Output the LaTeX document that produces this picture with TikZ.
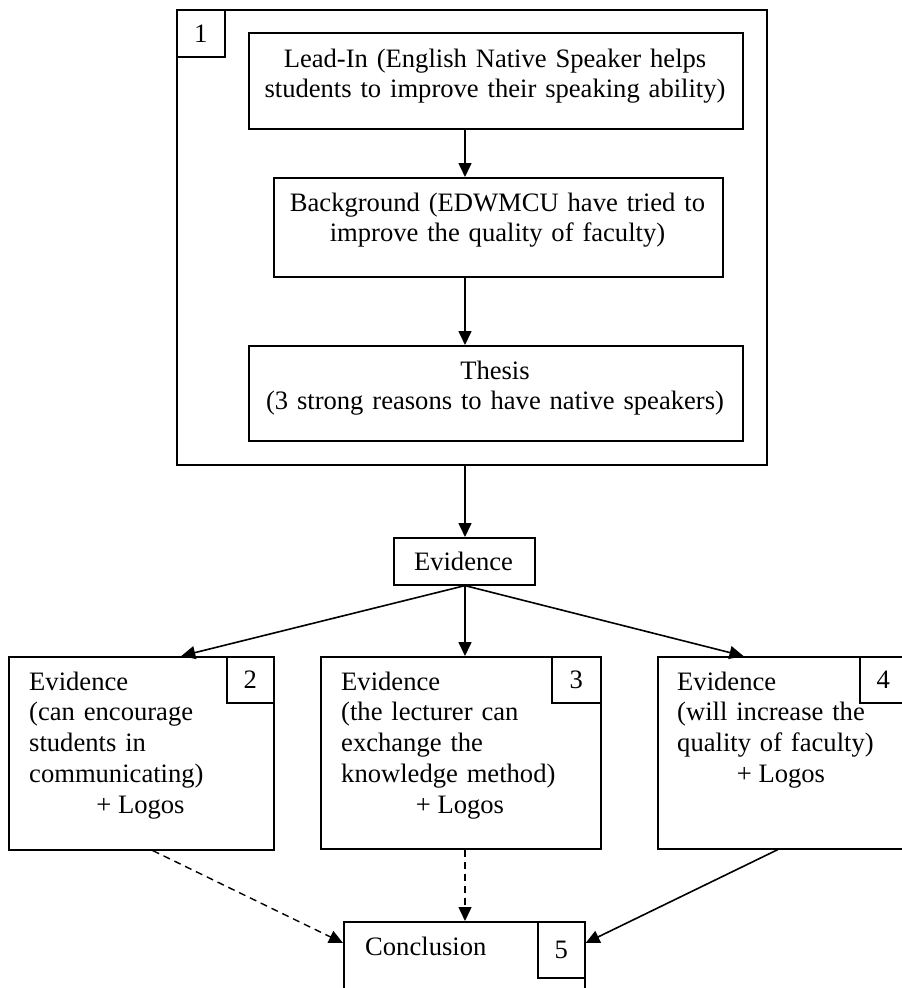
\documentclass[tikz,border=0pt]{standalone}
\usepackage{fontspec}
\setmainfont{Liberation Serif}
\usetikzlibrary{arrows.meta,calc}
\begin{document}
\begin{tikzpicture}[x=1pt,y=-1pt,
  every node/.style={font=\fontsize{26.6}{30.8}\selectfont},
  frame/.style={draw, line width=1.6pt, rectangle, inner sep=0pt, anchor=north west},
  txt/.style={inner sep=0pt},
  ltxt/.style={txt, align=left, anchor=base west},
  ctxt/.style={txt, align=center, anchor=base},
  arr/.style={line width=1.6pt, -{Triangle[length=14pt,width=13pt]}},
  dasharr/.style={arr, line width=1.4pt, dash pattern=on 7pt off 5pt}]
\useasboundingbox (0,0) rectangle (902,988);

% vertical line on which the main arrows run
\coordinate (ax) at (465,0);

% introduction block
\node[frame, minimum width=590, minimum height=455] (outer) at (176,9) {};
\node[frame, minimum width=48, minimum height=47] (n1) at (176,9) {1};

\node[frame, minimum width=494, minimum height=96] (lead) at (248,32) {};
\node[ctxt, text width=490] at (495,67)
  {Lead-In (English Native Speaker helps\\students to improve their speaking ability)};

\node[frame, minimum width=449, minimum height=99] (bg) at (273,177) {};
\node[ctxt, text width=445] at (497.5,211)
  {Background (EDWMCU have tried to\\improve the quality of faculty)};

\node[frame, minimum width=494, minimum height=95] (thesis) at (248,345) {};
\node[ctxt, text width=490] at (495,379)
  {Thesis\\(3 strong reasons to have native speakers)};

% evidence hub
\node[frame, minimum width=141, minimum height=47] (ev) at (393,537) {};
\node[ctxt] at (463.5,570) {Evidence};

% three evidence boxes
\node[frame, minimum width=265, minimum height=193] (ev2) at (8,656) {};
\node[frame, minimum width=47, minimum height=46] (n2) at (226,656) {2};
\node[ltxt, text width=240] at (29,690)
  {Evidence\\(can encourage\\students in\\communicating)};
\node[ctxt] at (140.5,813) {+ Logos};

\node[frame, minimum width=280, minimum height=192] (ev3) at (320,656) {};
\node[frame, minimum width=49, minimum height=46] (n3) at (551,656) {3};
\node[ltxt, text width=255] at (341,690)
  {Evidence\\(the lecturer can\\exchange the\\knowledge method)};
\node[ctxt] at (460,813) {+ Logos};

\node[frame, minimum width=249, minimum height=192] (ev4) at (657,656) {};
\node[frame, minimum width=47, minimum height=46] (n4) at (859,656) {4};
\node[ltxt, text width=225] at (677,690)
  {Evidence\\(will increase the\\quality of faculty)};
\node[ctxt] at (781,782) {+ Logos};

% conclusion
\node[frame, minimum width=241, minimum height=90] (concl) at (343,921) {};
\node[frame, minimum width=47, minimum height=56] (n5) at (537,921) {5};
\node[txt, anchor=base west] at (365,955) {Conclusion};

% connectors
\draw[arr] (lead.south -| ax) -- (bg.north -| ax);
\draw[arr] (bg.south -| ax) -- (thesis.north -| ax);
\draw[arr] (outer.south -| ax) -- (ev.north -| ax);

\draw[arr] (ev.south -| ax) -- ($(ev2.north west)!0.65!(ev2.north east)$);
\draw[arr] (ev.south -| ax) -- (ev3.north -| ax);
\draw[arr] (ev.south -| ax) -- ($(ev4.north west)!0.345!(ev4.north east)$);

\draw[dasharr] ($(ev2.south west)!0.543!(ev2.south east)$) -- ($(concl.north west)+(0,22)$);
\draw[dasharr] (ev3.south -| ax) -- (concl.north -| ax);
\draw[arr] ($(ev4.south west)!0.482!(ev4.south east)$) -- ($(concl.north east)+(0,22)$);
\end{tikzpicture}
\end{document}
